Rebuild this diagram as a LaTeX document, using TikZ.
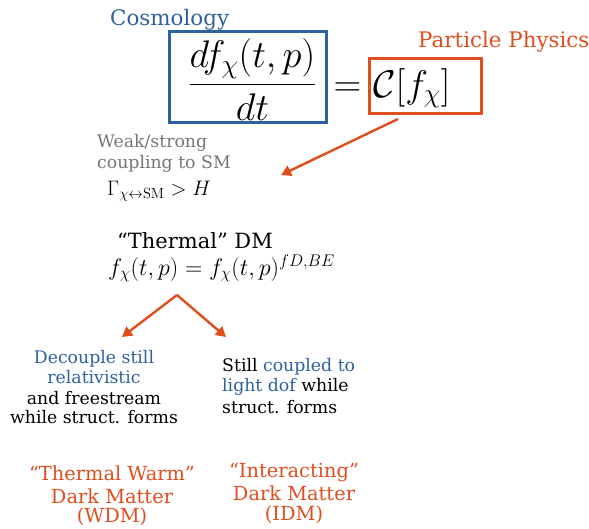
\RequirePackage{fix-cm}
\documentclass[tikz,border=0pt]{standalone}
\usepackage[no-math]{fontspec}
\setmainfont{DejaVu Serif}
\usepackage{amsmath}
\usetikzlibrary{arrows.meta}

\definecolor{cosmoblue}{RGB}{46,98,158}
\definecolor{ppred}{RGB}{224,78,30}
\definecolor{weakgray}{RGB}{118,118,118}

\tikzset{
  body/.style={font=\fontsize{17.3}{20.5}\selectfont, inner sep=0pt},
  head/.style={font=\fontsize{21.4}{25}\selectfont, inner sep=0pt},
  dmname/.style={font=\fontsize{19.4}{22.5}\selectfont, inner sep=0pt, text=ppred, align=center},
  bigmath/.style={font=\fontsize{38.5}{44}\selectfont, inner sep=0pt},
  eqbox/.style={draw, line width=2.8pt},
  redarrow/.style={draw=ppred, line width=2.4pt, -{Triangle[length=10pt,width=11pt]}}
}

\begin{document}
\begin{tikzpicture}[x=1pt,y=-1pt]
  \useasboundingbox (0,0) rectangle (589,528);

  % Boltzmann equation
  \node[head,text=cosmoblue,anchor=base west] (cosmo) at (110,25) {Cosmology};
  \node[eqbox,draw=cosmoblue,minimum width=157pt,minimum height=91pt] (lhs) at (248,77) {};
  \node[bigmath,anchor=base] (frac) at (252.5,94) {$\displaystyle\frac{df_\chi(t,p)}{dt}$};
  \node[bigmath,anchor=base] (eq) at (347.5,96) {$=$};
  \node[eqbox,draw=ppred,minimum width=112pt,minimum height=55pt] (rhs) at (425.5,86) {};
  \node[bigmath,anchor=base west] (coll) at (373,97) {$\mathcal{C}[f_\chi]$};
  \node[head,text=ppred,anchor=base west] (pp) at (418,47) {Particle Physics};

  % thermal branch
  \coordinate (r0) at (398,119);
  \coordinate (r1) at (281,175);
  \draw[redarrow] (r0) -- (r1);
  \node[body,text=weakgray,anchor=base west] (weak1) at (97,147) {Weak/strong};
  \node[body,text=weakgray,anchor=base west] (weak2) at (97,168) {coupling to SM};
  \node[inner sep=0pt,font=\fontsize{21}{25}\selectfont,anchor=base west] (rate) at (107,195) {$\Gamma_{\chi\leftrightarrow\mathrm{SM}} > H$};
  \node[inner sep=0pt,font=\fontsize{21}{25}\selectfont,anchor=base west] (therm) at (117,248) {``Thermal'' DM};
  \node[inner sep=0pt,font=\fontsize{24}{28}\selectfont,anchor=base west] (dist) at (108,275) {$f_\chi(t,p) = f_\chi(t,p)^{fD,BE}$};

  \coordinate (apex) at (177,295);
  \coordinate (tl) at (122,337);
  \coordinate (tr) at (226,337);
  \draw[redarrow] (apex) -- (tl);
  \draw[redarrow] (apex) -- (tr);

  % the two cases
  \foreach \t/\y in {{\textcolor{cosmoblue}{Decouple still}}/363,
                     {\textcolor{cosmoblue}{relativistic}}/383,
                     {and freestream}/404,
                     {while struct. forms}/423}
    \node[body,anchor=base] at (94,\y) {\t};
  \foreach \t/\y in {{Still \textcolor{cosmoblue}{coupled to}}/371,
                     {\textcolor{cosmoblue}{light dof} while}/391,
                     {struct. forms}/413}
    \node[body,anchor=base west] at (222,\y) {\t};

  \foreach \t/\y in {{``Thermal Warm''}/480,{Dark Matter}/503,{(WDM)}/522}
    \node[dmname,anchor=base] at (112,\y) {\t};
  \foreach \t/\y in {{``Interacting''}/477,{Dark Matter}/500,{(IDM)}/520}
    \node[dmname,anchor=base] at (294,\y) {\t};
\end{tikzpicture}
\end{document}
